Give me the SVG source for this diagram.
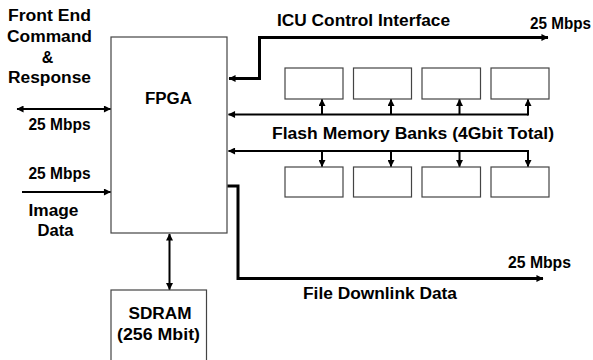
<svg xmlns="http://www.w3.org/2000/svg" width="593" height="360" viewBox="0 0 593 360">
<style>
.box{fill:#fff;stroke:#444;stroke-width:1.2}
.c{fill:none;stroke:#000;stroke-width:2}
.t{fill:none;stroke:#000;stroke-width:3}
text{font-family:"Liberation Sans",Arial,sans-serif;font-weight:bold;font-size:16px;fill:#000}
.m{text-anchor:middle}
</style>
<defs>
<marker id="ah" viewBox="0 0 8 8" refX="7.5" refY="4" markerWidth="8" markerHeight="7" markerUnits="userSpaceOnUse" orient="auto-start-reverse">
<path d="M0,0 L8,4 L0,8 Z" fill="#000"/>
</marker>
</defs>
<rect width="593" height="360" fill="#fff"/>
<g id="fpga"><rect class="box" x="111" y="37" width="116" height="196"/><text class="m" x="168.5" y="104" textLength="47" lengthAdjust="spacingAndGlyphs">FPGA</text></g>
<g id="sdram"><rect class="box" x="111" y="290" width="95.5" height="80"/><text class="m" x="160" y="319" textLength="63" lengthAdjust="spacingAndGlyphs">SDRAM</text><text class="m" x="158.5" y="340" textLength="83" lengthAdjust="spacingAndGlyphs">(256 Mbit)</text></g>
<g id="flash-top1"><rect class="box" x="285" y="68" width="58" height="31"/></g>
<g id="flash-top2"><rect class="box" x="353.5" y="68" width="58" height="31"/></g>
<g id="flash-top3"><rect class="box" x="422" y="68" width="58.5" height="31"/></g>
<g id="flash-top4"><rect class="box" x="491" y="68" width="58" height="31"/></g>
<g id="flash-bot1"><rect class="box" x="285" y="167" width="58" height="30"/></g>
<g id="flash-bot2"><rect class="box" x="353.5" y="167" width="58" height="30"/></g>
<g id="flash-bot3"><rect class="box" x="422" y="167" width="58.5" height="30"/></g>
<g id="flash-bot4"><rect class="box" x="491" y="167" width="58" height="30"/></g>
<g id="labels">
<text class="m" x="49.5" y="20.5" textLength="83" lengthAdjust="spacingAndGlyphs">Front End</text>
<text class="m" x="49.5" y="41.5" textLength="85" lengthAdjust="spacingAndGlyphs">Command</text>
<text class="m" x="47.5" y="62.5">&amp;</text>
<text class="m" x="49.5" y="82.5" textLength="83" lengthAdjust="spacingAndGlyphs">Response</text>
<text x="28.5" y="130" textLength="62" lengthAdjust="spacingAndGlyphs">25 Mbps</text>
<text x="28.5" y="178.5" textLength="62" lengthAdjust="spacingAndGlyphs">25 Mbps</text>
<text class="m" x="53.5" y="215.5" textLength="50" lengthAdjust="spacingAndGlyphs">Image</text>
<text class="m" x="55.5" y="236" textLength="36" lengthAdjust="spacingAndGlyphs">Data</text>
<text x="277" y="26" textLength="173" lengthAdjust="spacingAndGlyphs">ICU Control Interface</text>
<text x="530" y="28.5" textLength="61" lengthAdjust="spacingAndGlyphs">25 Mbps</text>
<text x="272" y="139" textLength="282" lengthAdjust="spacingAndGlyphs">Flash Memory Banks (4Gbit Total)</text>
<text x="508" y="268" textLength="63" lengthAdjust="spacingAndGlyphs">25 Mbps</text>
<text x="303" y="299" textLength="154" lengthAdjust="spacingAndGlyphs">File Downlink Data</text>
</g>
<g id="connectors">
<path class="t" d="M229,78.5 H259.5 V37.5 H548" marker-start="url(#ah)" marker-end="url(#ah)"/>
<path class="c" d="M528,114.5 H228.5" marker-end="url(#ah)"/>
<path class="c" d="M322,114.5 V99.5" marker-end="url(#ah)"/>
<path class="c" d="M391,114.5 V99.5" marker-end="url(#ah)"/>
<path class="c" d="M459.5,114.5 V99.5" marker-end="url(#ah)"/>
<path class="c" d="M528,115.5 V99.5" marker-end="url(#ah)"/>
<path class="c" d="M528,151 H228.5" marker-end="url(#ah)"/>
<path class="c" d="M322,151 V166.5" marker-end="url(#ah)"/>
<path class="c" d="M391,151 V166.5" marker-end="url(#ah)"/>
<path class="c" d="M459.5,151 V166.5" marker-end="url(#ah)"/>
<path class="c" d="M528,150 V166.5" marker-end="url(#ah)"/>
<path class="c" d="M17,109 H110.5" marker-start="url(#ah)" marker-end="url(#ah)"/>
<path class="c" d="M22,192 H110.5" marker-end="url(#ah)"/>
<path class="c" d="M169.5,234 V289.5" marker-start="url(#ah)" marker-end="url(#ah)"/>
<path class="t" d="M227.5,186 H238 V278.5 H543" marker-end="url(#ah)"/>
</g>
</svg>
